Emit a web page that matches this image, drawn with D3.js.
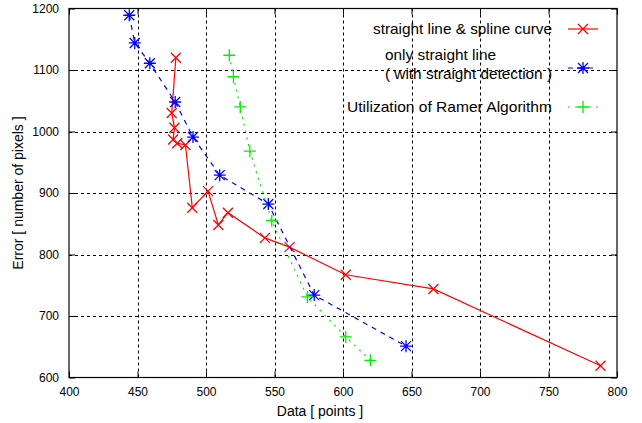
<!DOCTYPE html>
<html>
<head>
<meta charset="utf-8">
<script src="https://cdn.jsdelivr.net/npm/d3@7"></script>
<style>
body { margin: 0; background: #fff; }
text { font-family: "Liberation Sans", Arial, sans-serif; fill: #000; }
</style>
</head>
<body>
<div id="app"></div>
<script>
// data
const splineX = [478, 475, 477, 476, 479, 485, 490, 501.5, 509, 516, 543, 561, 602, 666, 788]
const splineY = [1120, 1030, 1006, 987, 981, 978, 876, 903, 848, 868, 827, 812, 767, 744, 619]
const straightX = [444, 448, 459, 477.5, 490.5, 510, 545.5, 579, 646]
const straightY = [1189, 1144, 1111, 1048, 991, 929, 882, 734, 651]
const ramerX = [517, 520, 525, 532, 548, 574, 602, 620]
const ramerY = [1124, 1089, 1040, 968, 855, 731, 666, 628]
const xTicks = [400, 450, 500, 550, 600, 650, 700, 750, 800]
const yTicks = [600, 700, 800, 900, 1000, 1100, 1200]

const width = 642, height = 423
const plot = { left: 69, right: 617, top: 8.5, bottom: 377.5 }

const svg = d3.select('#app')
    .append('svg')
    .attr('width', width)
    .attr('height', height)

const xScale = d3.scaleLinear().domain([400, 800]).range([plot.left, plot.right])
const yScale = d3.scaleLinear().domain([600, 1200]).range([plot.bottom, plot.top])

// grid
const grid = svg.append('g')
    .attr('stroke', '#000')
    .attr('stroke-width', 1)
    .attr('stroke-dasharray', '3,3')
grid.selectAll('.gx')
    .data(xTicks.slice(1, -1))
    .join('line')
    .attr('x1', d => Math.round(xScale(d)) + 0.5)
    .attr('x2', d => Math.round(xScale(d)) + 0.5)
    .attr('y1', plot.top)
    .attr('y2', plot.bottom)
grid.selectAll('.gy')
    .data(yTicks.slice(1, -1))
    .join('line')
    .attr('y1', d => Math.round(yScale(d)) + 0.5)
    .attr('y2', d => Math.round(yScale(d)) + 0.5)
    .attr('x1', plot.left)
    .attr('x2', plot.right)

// axes with inward ticks, mirrored on top/right
const tickLen = 6
const xAxis = svg.append('g')
    .attr('transform', `translate(0,${plot.bottom})`)
    .call(d3.axisBottom(xScale).tickValues(xTicks).tickFormat(d3.format('d')).tickSizeInner(-tickLen).tickSizeOuter(0))
const xTop = svg.append('g')
    .attr('transform', `translate(0,${plot.top})`)
    .call(d3.axisTop(xScale).tickValues(xTicks).tickSizeInner(-tickLen).tickSizeOuter(0).tickFormat(''))
const yAxis = svg.append('g')
    .attr('transform', `translate(${plot.left},0)`)
    .call(d3.axisLeft(yScale).tickValues(yTicks).tickFormat(d3.format('d')).tickSizeInner(-tickLen).tickSizeOuter(0).tickPadding(10))
const yRight = svg.append('g')
    .attr('transform', `translate(${plot.right},0)`)
    .call(d3.axisRight(yScale).tickValues(yTicks).tickSizeInner(-tickLen).tickSizeOuter(0).tickFormat(''))

svg.selectAll('.domain').remove()
svg.selectAll('.tick line').attr('stroke', '#000')
svg.selectAll('.tick text')
    .style('font-family', '"Liberation Sans", Arial, sans-serif')
    .style('font-size', '12px')
    .attr('fill', '#000')
xAxis.selectAll('.tick text').attr('dy', '0.35em').attr('y', 14)

// border
svg.append('rect')
    .attr('x', plot.left)
    .attr('y', plot.top)
    .attr('width', plot.right - plot.left)
    .attr('height', plot.bottom - plot.top)
    .attr('fill', 'none')
    .attr('stroke', '#000')
    .attr('stroke-width', 1.2)

// axis titles
svg.append('text')
    .attr('x', 320)
    .attr('y', 416)
    .attr('text-anchor', 'middle')
    .style('font-size', '14px')
    .text('Data [ points ]')
svg.append('text')
    .attr('transform', `translate(23,${(plot.top + plot.bottom) / 2}) rotate(-90)`)
    .attr('text-anchor', 'middle')
    .style('font-size', '14px')
    .text('Error [ number of pixels ]')

// marker shapes
const r = 5
const markers = {
    x: `M${-r},${-r}L${r},${r}M${-r},${r}L${r},${-r}`,
    star: `M${-r},${-r}L${r},${r}M${-r},${r}L${r},${-r}M${-r - 1},0L${r + 1},0M0,${-r - 1}L0,${r + 1}`,
    plus: `M${-r - 1},0L${r + 1},0M0,${-r - 1}L0,${r + 1}`
}

const series = [
    { name: 'spline', xs: splineX, ys: splineY, color: '#ff0000', dash: null, marker: 'x' },
    { name: 'straight', xs: straightX, ys: straightY, color: '#0000ff', dash: '5,5', marker: 'star' },
    { name: 'ramer', xs: ramerX, ys: ramerY, color: '#00ee00', dash: '2,5', marker: 'plus' }
]

const line = d3.line().x(d => xScale(d[0])).y(d => yScale(d[1]))

series.forEach(s => {
    const pts = d3.zip(s.xs, s.ys)
    svg.append('path')
        .datum(pts)
        .attr('d', line)
        .attr('fill', 'none')
        .attr('stroke', s.color)
        .attr('stroke-width', 1.2)
        .attr('stroke-dasharray', s.dash)
    svg.selectAll('.m-' + s.name)
        .data(pts)
        .join('path')
        .attr('class', 'm-' + s.name)
        .attr('transform', d => `translate(${xScale(d[0])},${yScale(d[1])})`)
        .attr('d', markers[s.marker])
        .attr('fill', 'none')
        .attr('stroke', s.color)
        .attr('stroke-width', 1.3)
})

// legend (text widths stretched to the reference)
const legend = svg.append('g')
const legendText = [
    { text: 'straight line & spline curve', x: 373, y: 29, w: 179 },
    { text: 'only straight line', x: 385, y: 55, w: 111 },
    { text: '( with straight detection )', x: 385, y: 74, w: 167 },
    { text: 'Utilization of Ramer Algorithm', x: 347, y: 107, w: 205 }
]
legend.selectAll('text')
    .data(legendText)
    .join('text')
    .attr('x', d => d.x)
    .attr('y', d => d.y)
    .attr('dy', '0.35em')
    .attr('textLength', d => d.w)
    .attr('lengthAdjust', 'spacingAndGlyphs')
    .style('font-size', '14.5px')
    .text(d => d.text)

const legendRows = [29, 68, 107]
series.forEach((s, i) => {
    const my = legendRows[i]
    legend.append('line')
        .attr('x1', 568).attr('x2', 598)
        .attr('y1', my)
        .attr('y2', my)
        .attr('stroke', s.color)
        .attr('stroke-width', 1.2)
        .attr('stroke-dasharray', s.dash)
    legend.append('path')
        .attr('transform', `translate(583,${my})`)
        .attr('d', markers[s.marker])
        .attr('fill', 'none')
        .attr('stroke', s.color)
        .attr('stroke-width', 1.3)
})
</script>
</body>
</html>
